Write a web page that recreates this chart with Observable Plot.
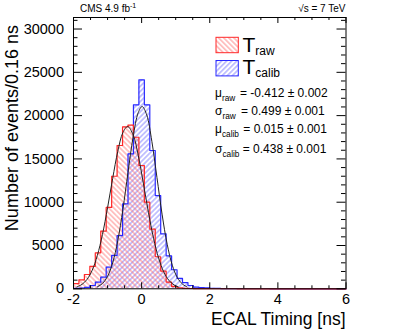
<!DOCTYPE html>
<html><head><meta charset="utf-8">
<script src="https://cdn.jsdelivr.net/npm/d3@7"></script>
<script src="https://cdn.jsdelivr.net/npm/@observablehq/plot@0.6"></script>
<style>body{margin:0;background:#fff}svg{display:block}</style>
</head><body><div id="chart"></div>
<script>
// ---- data ----
const binStart = -2;
const binWidth = 0.16;
const rawCounts = [600, 1040, 1650, 2600, 4150, 6650, 9400, 13000, 16550, 18700,
  18900, 17500, 14240, 10000, 6900, 3700, 2050, 780, 270, 110,
  60, 35, 20, 15, 10, 8, 5, 5, 3, 3,
  2, 2, 1, 1, 1, 1, 0, 0, 0, 0,
  0, 0, 0, 0, 0, 0, 0, 0, 0, 0];
const calibCounts = [60, 90, 170, 380, 760, 1340, 2500, 3850, 6150, 9800,
  15590, 21250, 24130, 21250, 15970, 10770, 6350, 3800, 2200, 1200,
  720, 380, 200, 150, 100, 60, 40, 30, 20, 15,
  10, 8, 6, 5, 4, 3, 2, 2, 1, 1,
  0, 0, 0, 0, 0, 0, 0, 0, 0, 0];
const rawFitT = [-1.9, -1.75, -1.6, -1.45, -1.3, -1.15, -1.0, -0.85, -0.7, -0.55, -0.41, -0.25, -0.1, 0.05, 0.2, 0.35, 0.5, 0.65, 0.8, 0.95, 1.08];
const rawFitV = [220, 510, 1100, 2150, 3850, 6270, 9360, 12750, 15870, 18040, 18740, 17780, 15420, 12210, 8830, 5840, 3530, 1950, 980, 450, 210];
const calibFitT = [-1.3, -1.15, -1.0, -0.85, -0.7, -0.55, -0.4, -0.25, -0.1, 0.015, 0.15, 0.3, 0.45, 0.6, 0.75, 0.9, 1.05, 1.2, 1.33];
const calibFitV = [230, 610, 1440, 3000, 5560, 9160, 13440, 17530, 20340, 21050, 20080, 17030, 12860, 8620, 5150, 2730, 1290, 540, 230];
const yTicks = [0, 5000, 10000, 15000, 20000, 25000, 30000];
const xTicks = [-2, 0, 2, 4, 6];
const statNames = [["μ", "raw"], ["σ", "raw"], ["μ", "calib"], ["σ", "calib"]];
const statValues = ["= -0.412 ± 0.002", "= 0.499 ± 0.001", "= 0.015 ± 0.001", "= 0.438 ± 0.001"];

// ---- derived tables ----
const toBins = c => c.map((v, i) => ({x1: binStart + i * binWidth, x2: binStart + (i + 1) * binWidth, y: v}));
const toSteps = c => c.map((v, i) => ({x: binStart + i * binWidth, y: v})).concat([{x: binStart + c.length * binWidth, y: c[c.length - 1]}]);
const rawFit = rawFitT.map((t, i) => ({t, v: rawFitV[i]}));
const calibFit = calibFitT.map((t, i) => ({t, v: calibFitV[i]}));
const yMinor = d3.range(0, 31001, 1000).filter(d => d % 5000 !== 0);
const xMinor = d3.range(-2, 6.001, 0.5).filter(d => Math.abs(d % 2) > 1e-9);

const W = 407, H = 335, mL = 73, mR = 61.5, mT = 17, mB = 46.7;
const iW = W - mL - mR, iH = H - mT - mB;
const font = "'Liberation Sans', Arial, Helvetica, sans-serif";

const chart = Plot.plot({
  width: W, height: H,
  marginLeft: mL, marginRight: mR, marginTop: mT, marginBottom: mB,
  style: {fontFamily: font, background: "white", color: "black", overflow: "visible"},
  x: {domain: [-2, 6], axis: null},
  y: {domain: [0, 31330], axis: null},
  marks: [
    Plot.rectY(toBins(calibCounts), {x1: "x1", x2: "x2", y: "y", fill: "url(#hatchCalib)"}),
    Plot.rectY(toBins(rawCounts), {x1: "x1", x2: "x2", y: "y", fill: "url(#hatchRaw)"}),
    Plot.line(toSteps(calibCounts), {x: "x", y: "y", curve: "step-after", stroke: "#2828ff", strokeWidth: 1.2}),
    Plot.line(toSteps(rawCounts), {x: "x", y: "y", curve: "step-after", stroke: "#ff2828", strokeWidth: 1.2}),
    Plot.line(rawFit, {x: "t", y: "v", curve: "catmull-rom", stroke: "#222", strokeWidth: 1}),
    Plot.line(calibFit, {x: "t", y: "v", curve: "catmull-rom", stroke: "#222", strokeWidth: 1}),
    Plot.frame({stroke: "black", strokeWidth: 1}),
    Plot.tickY(yTicks, {y: d => d, insetRight: iW - 9, stroke: "black"}),
    Plot.tickY(yTicks, {y: d => d, insetLeft: iW - 9, stroke: "black"}),
    Plot.tickY(yMinor, {y: d => d, insetRight: iW - 4.5, stroke: "black"}),
    Plot.tickY(yMinor, {y: d => d, insetLeft: iW - 4.5, stroke: "black"}),
    Plot.tickX(xTicks, {x: d => d, insetTop: iH - 6, stroke: "black"}),
    Plot.tickX(xTicks, {x: d => d, insetBottom: iH - 6, stroke: "black"}),
    Plot.tickX(xMinor, {x: d => d, insetTop: iH - 3, stroke: "black"}),
    Plot.tickX(xMinor, {x: d => d, insetBottom: iH - 3, stroke: "black"}),
    Plot.text(yTicks, {y: d => d, text: d => String(d), frameAnchor: "left", textAnchor: "end", dx: -9.5, fontSize: 14.5, fill: "black"}),
    Plot.text(xTicks, {x: d => d, text: d => String(d), frameAnchor: "bottom", lineAnchor: "top", dy: 4.5, fontSize: 14.5, fill: "black"})
  ]
});
document.getElementById("chart").appendChild(chart);

const svg = d3.select(chart);
const defs = svg.insert("defs", ":first-child");
function hatch(id, angle, color) {
  const p = defs.append("pattern").attr("id", id).attr("patternUnits", "userSpaceOnUse")
    .attr("width", 3.6).attr("height", 3.6).attr("patternTransform", `rotate(${angle})`);
  p.append("line").attr("x1", 1.8).attr("y1", -1).attr("x2", 1.8).attr("y2", 5)
    .attr("stroke", color).attr("stroke-width", 0.75);
}
hatch("hatchRaw", -45, "#ff6464");
hatch("hatchCalib", 45, "#6464ff");

const g = svg.append("g").attr("font-family", font).attr("fill", "black").attr("text-anchor", "start");
// header
const cms = g.append("text").attr("x", 80).attr("y", 11.7).attr("font-size", 10);
cms.append("tspan").text("CMS 4.9 fb");
cms.append("tspan").attr("dy", -4).attr("font-size", 7).text("-1");
g.append("text").attr("x", 345.5).attr("y", 11.7).attr("font-size", 10).attr("text-anchor", "end").text("√s = 7 TeV");
// axis titles
g.append("text").attr("transform", "translate(18.3,25) rotate(-90)").attr("text-anchor", "end")
  .attr("font-size", 18).text("Number of events/0.16 ns");
g.append("text").attr("x", 345.5).attr("y", 325).attr("text-anchor", "end").attr("font-size", 17.5).text("ECAL Timing [ns]");
// legend
g.append("rect").attr("x", 216).attr("y", 37.3).attr("width", 22.3).attr("height", 15.4)
  .attr("fill", "url(#hatchRaw)").attr("stroke", "#ff2828").attr("stroke-width", 1);
g.append("rect").attr("x", 216).attr("y", 60.5).attr("width", 22.3).attr("height", 15.4)
  .attr("fill", "url(#hatchCalib)").attr("stroke", "#2828ff").attr("stroke-width", 1);
const l1 = g.append("text").attr("x", 242.5).attr("y", 51.7).attr("font-size", 21);
l1.append("tspan").text("T");
l1.append("tspan").attr("font-size", 12).attr("dy", 3.3).text("raw");
const l2 = g.append("text").attr("x", 242.5).attr("y", 74).attr("font-size", 21);
l2.append("tspan").text("T");
l2.append("tspan").attr("font-size", 12).attr("dy", 2.7).text("calib");
// stats
const statY = [96.7, 115, 133.3, 152.7];
const statX = [240, 241, 243.3, 242.7];
statNames.forEach(([sym, sub], i) => {
  const t = g.append("text").attr("x", 215).attr("y", statY[i]).attr("font-size", 12);
  t.append("tspan").text(sym);
  t.append("tspan").attr("font-size", 8.3).attr("dy", 4).text(sub);
  g.append("text").attr("x", statX[i]).attr("y", statY[i]).attr("font-size", 12).text(statValues[i]);
});
</script></body></html>
